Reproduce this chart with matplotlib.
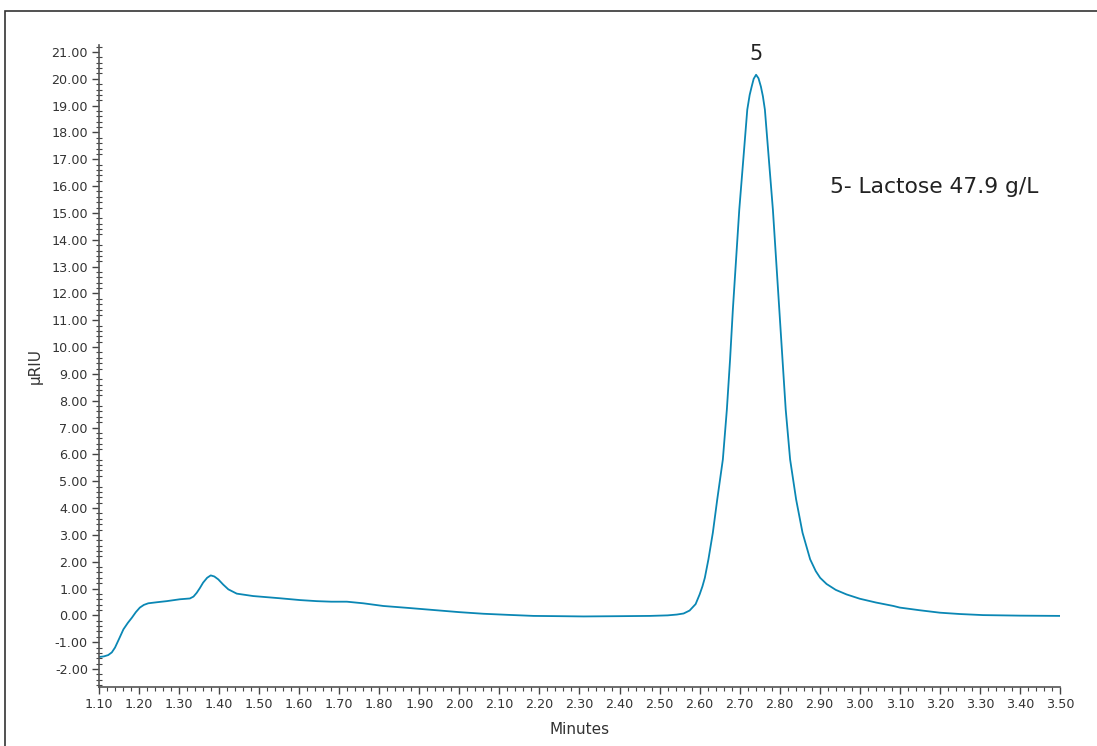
import matplotlib
matplotlib.use("Agg")
import matplotlib.pyplot as plt
from matplotlib.ticker import MultipleLocator, FormatStrFormatter
from matplotlib.patches import Rectangle

# Retention time (min) and detector response (µRIU)
minutes = [1.100, 1.112, 1.123, 1.132, 1.140, 1.150, 1.161, 1.172, 1.182, 1.192, 1.202,
           1.212, 1.223, 1.245, 1.269, 1.302, 1.327, 1.336, 1.344, 1.352, 1.360,
           1.370, 1.379, 1.388, 1.398, 1.410, 1.423, 1.444, 1.485, 1.550, 1.602,
           1.644, 1.680, 1.719, 1.760, 1.810, 1.870, 1.935, 2.000, 2.060, 2.120,
           2.185, 2.250, 2.310, 2.400, 2.476, 2.520, 2.543, 2.560, 2.575, 2.590,
           2.600, 2.607, 2.613, 2.622, 2.633, 2.644, 2.658, 2.668, 2.676, 2.683,
           2.691, 2.699, 2.709, 2.719, 2.725, 2.730, 2.735, 2.741, 2.747, 2.753,
           2.758, 2.763, 2.773, 2.783, 2.791, 2.799, 2.807, 2.815, 2.826, 2.841,
           2.857, 2.876, 2.890, 2.901, 2.917, 2.940, 2.967, 3.000, 3.040,
           3.084, 3.100, 3.150, 3.200, 3.250, 3.308, 3.400, 3.500]
riu = [-1.55, -1.53, -1.48, -1.38, -1.20, -0.88, -0.52, -0.28, -0.09, 0.12, 0.29,
       0.39, 0.45, 0.49, 0.53, 0.60, 0.63, 0.70, 0.84, 1.02, 1.22,
       1.40, 1.49, 1.45, 1.34, 1.15, 0.97, 0.81, 0.72, 0.64, 0.57,
       0.53, 0.51, 0.51, 0.45, 0.35, 0.28, 0.20, 0.12, 0.06, 0.02,
       -0.02, -0.03, -0.04, -0.03, -0.02, 0.00, 0.03, 0.07, 0.18, 0.42,
       0.78, 1.08, 1.40, 2.09, 3.08, 4.32, 5.81, 7.67, 9.53, 11.40,
       13.26, 15.12, 16.98, 18.85, 19.40, 19.71, 20.00, 20.15, 20.02, 19.71,
       19.35, 18.85, 16.98, 15.12, 13.26, 11.40, 9.53, 7.67, 5.81, 4.32,
       3.08, 2.09, 1.65, 1.40, 1.17, 0.95, 0.78, 0.62, 0.48,
       0.35, 0.29, 0.19, 0.10, 0.05, 0.01, -0.01, -0.02]

peak_label = "5"
peak_time = 2.741
peak_height = 20.15
legend_text = "5- Lactose 47.9 g/L"

x_ticks = [round(1.10 + 0.10 * i, 2) for i in range(25)]
y_ticks = list(range(-2, 22))

line_color = "#0a87b4"
text_color = "#333333"

fig = plt.figure(figsize=(10.97, 7.46), dpi=100)
ax = fig.add_axes([99 / 1097, 1 - 687 / 746, (1060 - 99) / 1097, (687 - 45) / 746])

ax.plot(minutes, riu, color=line_color, lw=1.3, solid_joinstyle="round",
        solid_capstyle="round")

ax.set_xlim(1.10, 3.50)
ax.set_ylim(-2.67, 21.26)
ax.set_xticks(x_ticks)
ax.set_yticks(y_ticks)
ax.xaxis.set_major_formatter(FormatStrFormatter("%.2f"))
ax.yaxis.set_major_formatter(FormatStrFormatter("%.2f"))
ax.xaxis.set_minor_locator(MultipleLocator(0.02))
ax.yaxis.set_minor_locator(MultipleLocator(0.2))

for s in ["top", "right"]:
    ax.spines[s].set_visible(False)
for s in ["left", "bottom"]:
    ax.spines[s].set_color("#555555")
    ax.spines[s].set_linewidth(1.2)

ax.tick_params(axis="both", which="major", direction="out", length=5, width=1,
               color="#444444", labelsize=9.2, labelcolor=text_color, pad=3)
ax.tick_params(axis="x", which="minor", direction="out", length=3, width=0.8, color="#444444")
ax.tick_params(axis="y", which="minor", direction="inout", length=4, width=0.8, color="#444444")

ax.set_xlabel("Minutes", fontsize=11, color=text_color, labelpad=8)
ax.set_ylabel("µRIU", fontsize=11, color=text_color, labelpad=6)

ax.annotate(peak_label, xy=(peak_time, peak_height), xytext=(0, 8),
            textcoords="offset points", ha="center", va="bottom",
            fontsize=15, color="#222222")
ax.text((830 - 99) / 961, (687 - 187) / 642, legend_text, transform=ax.transAxes,
        fontsize=15.7, color="#222222", ha="left", va="center")

frame = Rectangle((5 / 1097, -0.1), 1.2, 1.1 - 11 / 746, transform=fig.transFigure,
                  fill=False, edgecolor="#333333", lw=1.2, clip_on=False)
fig.patches.append(frame)

fig.savefig("out.png", dpi=100)
